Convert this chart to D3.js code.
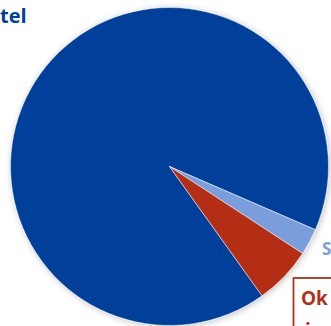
<!DOCTYPE html>
<html>
<head>
<meta charset="utf-8">
<script src="https://cdn.jsdelivr.net/npm/d3@7"></script>
<style>
  html, body { margin: 0; padding: 0; background: #fff; overflow: hidden; }
  svg { display: block; }
</style>
</head>
<body>
<svg id="chart" width="331" height="326"></svg>
<script>
// slice data (shares of the whole)
var sliceNames = ["Hotel", "S", "Ok"];
var sliceValues = [91.4, 2.7, 5.9];
var sliceColors = ["#00419a", "#7a9edc", "#b42e19"];

var width = 331, height = 326;
var cx = 169.5, cy = 166.5, radius = 159;

var svg = d3.select("#chart");

// soft shadow round the pie
var defs = svg.append("defs");
var f = defs.append("filter").attr("id", "shadow")
    .attr("x", "-20%").attr("y", "-20%").attr("width", "140%").attr("height", "140%");
f.append("feDropShadow")
    .attr("dx", 1).attr("dy", 1)
    .attr("stdDeviation", 3)
    .attr("flood-color", "#000")
    .attr("flood-opacity", 0.25);

var pie = d3.pie()
    .sort(null)
    .value(function(d) { return d; })
    .startAngle(144.4 * Math.PI / 180)
    .endAngle(144.4 * Math.PI / 180 + 2 * Math.PI);

var arc = d3.arc().innerRadius(0).outerRadius(radius);

var g = svg.append("g")
    .attr("transform", "translate(" + cx + "," + cy + ")")
    .attr("filter", "url(#shadow)");

g.selectAll("path")
    .data(pie(sliceValues))
    .enter()
    .append("path")
    .attr("d", arc)
    .attr("fill", function(d, i) { return sliceColors[i]; })
    .attr("stroke", "#fff")
    .attr("stroke-width", 0.5);

// labels (mostly cut by the frame)
svg.append("text")
    .attr("x", 0)
    .attr("y", 23)
    .attr("font-family", "Open Sans")
    .attr("font-weight", "bold")
    .attr("font-size", 20)
    .attr("fill", "#00419a")
    .text("tel");

svg.append("text")
    .attr("x", 322)
    .attr("y", 255)
    .attr("font-family", "Open Sans")
    .attr("font-weight", "bold")
    .attr("font-size", 17)
    .attr("fill", "#7a9edc")
    .text(sliceNames[1]);

svg.append("rect")
    .attr("x", 293.5)
    .attr("y", 278)
    .attr("width", 60)
    .attr("height", 60)
    .attr("fill", "#fff")
    .attr("stroke", "#b42e19")
    .attr("stroke-width", 1.8);

var okText = svg.append("text")
    .attr("font-family", "Open Sans")
    .attr("font-weight", "bold")
    .attr("font-size", 19)
    .attr("fill", "#b42e19");
okText.append("tspan").attr("x", 301).attr("y", 305).text(sliceNames[2]);
okText.append("tspan").attr("x", 305).attr("y", 337).text("i");
</script>
</body>
</html>
